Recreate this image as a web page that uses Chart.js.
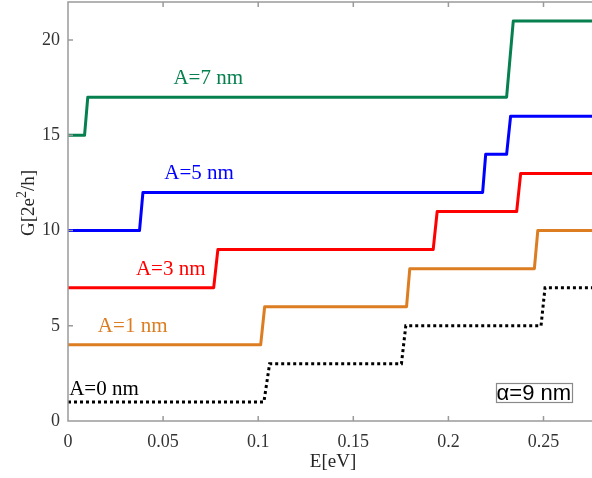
<!DOCTYPE html>
<html>
<head>
<meta charset="utf-8">
<script src="https://cdn.jsdelivr.net/npm/chart.js@4/dist/chart.umd.min.js"></script>
<style>
  html, body { margin: 0; padding: 0; background: #fff; }
  #wrap { width: 592px; height: 478px; position: relative; }
</style>
</head>
<body>
<div id="wrap"><canvas id="myChart"></canvas></div>
<script>
// conductance steps G(E) for several A values, a = 9 nm
var eA7 = [0, 0.0087, 0.0104, 0.2306, 0.2341, 0.2755];
var gA7 = [15, 15, 17, 17, 21, 21];

var eA5 = [0, 0.0376, 0.0394, 0.2180, 0.2196, 0.2306, 0.2327, 0.2755];
var gA5 = [10, 10, 12, 12, 14, 14, 16, 16];

var eA3 = [0, 0.0766, 0.0788, 0.1920, 0.1941, 0.2359, 0.2380, 0.2755];
var gA3 = [7, 7, 9, 9, 11, 11, 13, 13];

var eA1 = [0, 0.1013, 0.1034, 0.1780, 0.1797, 0.2452, 0.2470, 0.2755];
var gA1 = [4, 4, 6, 6, 8, 8, 10, 10];

var eA0 = [0, 0.1030, 0.1060, 0.1753, 0.1776, 0.2487, 0.2508, 0.2755];
var gA0 = [1, 1, 3, 3, 5, 5, 7, 7];

var seriesNames = ['A=7 nm', 'A=5 nm', 'A=3 nm', 'A=1 nm', 'A=0 nm'];
var seriesColors = ['#07804f', '#0000ff', '#ff0000', '#dc7d22', '#000000'];
// where each curve's name sits, in (E, G)
var labelE = [0.0737, 0.0689, 0.0540, 0.0340, 0.0189];
var labelG = [18.0, 12.97, 7.93, 4.95, 1.68];

var xTicks = [0, 0.05, 0.1, 0.15, 0.2, 0.25];
var yTicks = [0, 5, 10, 15, 20];

function toPoints(xs, ys) {
    return xs.map(function(x, i) { return {x: x, y: ys[i]}; });
}

var serif = '"Liberation Serif", "Times New Roman", serif';

var decorations = {
    id: 'decorations',
    afterDatasetsDraw: function(chart) {
        var ctx = chart.ctx;
        var area = chart.chartArea;
        var xs = chart.scales.x;
        var ys = chart.scales.y;
        ctx.save();

        // frame (left, bottom, top) with inward ticks
        ctx.strokeStyle = '#9a9a9a';
        ctx.lineWidth = 1.5;
        ctx.beginPath();
        ctx.moveTo(area.right, area.top);
        ctx.lineTo(area.left, area.top);
        ctx.lineTo(area.left, area.bottom);
        ctx.lineTo(area.right, area.bottom);
        xTicks.forEach(function(t) {
            var px = xs.getPixelForValue(t);
            ctx.moveTo(px, area.bottom);
            ctx.lineTo(px, area.bottom - 5);
            ctx.moveTo(px, area.top);
            ctx.lineTo(px, area.top + 5);
        });
        yTicks.forEach(function(t) {
            var py = ys.getPixelForValue(t);
            ctx.moveTo(area.left, py);
            ctx.lineTo(area.left + 5, py);
        });
        ctx.stroke();

        // curve names
        ctx.font = '21px ' + serif;
        ctx.textAlign = 'center';
        ctx.textBaseline = 'middle';
        seriesNames.forEach(function(name, i) {
            ctx.fillStyle = seriesColors[i];
            ctx.fillText(name, xs.getPixelForValue(labelE[i]), ys.getPixelForValue(labelG[i]));
        });

        // boxed parameter note
        var bx = xs.getPixelForValue(0.2449);
        var by = ys.getPixelForValue(1.49);
        ctx.font = '22px "Liberation Sans", Arial, sans-serif';
        var note = '\u03b1=9 nm';
        var w = ctx.measureText(note).width;
        ctx.fillStyle = '#000';
        ctx.fillText(note, bx, by + 1);
        ctx.strokeStyle = '#8a8a8a';
        ctx.lineWidth = 1.2;
        ctx.strokeRect(Math.round(bx - w / 2 - 1) + 0.5, Math.round(by - 10) + 0.5, Math.round(w + 2), 19);

        // axis titles
        ctx.fillStyle = '#262626';
        ctx.font = '19px ' + serif;
        ctx.textBaseline = 'alphabetic';
        ctx.fillText('E[eV]', 333, 467);

        ctx.translate(34, 203);
        ctx.rotate(-Math.PI / 2);
        ctx.textAlign = 'left';
        var a = 'G[2e', b = '2', c = '/h]';
        ctx.font = '19px ' + serif;
        var wa = ctx.measureText(a).width, wc = ctx.measureText(c).width;
        ctx.font = '14px ' + serif;
        var wb = ctx.measureText(b).width;
        var x0 = -(wa + wb + wc) / 2;
        ctx.font = '19px ' + serif;
        ctx.fillText(a, x0, 0);
        ctx.font = '14px ' + serif;
        ctx.fillText(b, x0 + wa, -8);
        ctx.font = '19px ' + serif;
        ctx.fillText(c, x0 + wa + wb, 0);
        ctx.restore();
    }
};

function makeDataset(xs, ys, i) {
    return {
        label: seriesNames[i],
        data: toPoints(xs, ys),
        borderColor: seriesColors[i],
        borderWidth: 3,
        borderJoinStyle: 'round',
        pointRadius: 0,
        tension: 0,
        fill: false
    };
}

var dotted = makeDataset(eA0, gA0, 4);
dotted.borderDash = [3, 3];
dotted.borderJoinStyle = 'miter';

var ctx = document.getElementById('myChart').getContext('2d');
var chart = new Chart(ctx, {
    type: 'line',
    data: {
        datasets: [
            makeDataset(eA7, gA7, 0),
            makeDataset(eA5, gA5, 1),
            makeDataset(eA3, gA3, 2),
            makeDataset(eA1, gA1, 3),
            dotted
        ]
    },
    options: {
        responsive: true,
        maintainAspectRatio: false,
        animation: false,
        layout: { padding: { top: 2, right: 0, left: 0, bottom: 0 } },
        plugins: {
            legend: { display: false },
            tooltip: { enabled: false }
        },
        scales: {
            x: {
                type: 'linear',
                min: 0,
                max: 0.2755,
                grid: { display: false, drawTicks: false },
                border: { display: false },
                afterFit: function(scale) {
                    scale.height = 57;
                    scale.paddingLeft = 0;
                    scale.paddingRight = 0;
                },
                afterBuildTicks: function(scale) {
                    scale.ticks = xTicks.map(function(v) { return {value: v}; });
                },
                ticks: {
                    padding: 10,
                    maxRotation: 0,
                    autoSkip: false,
                    color: '#333',
                    font: { family: serif, size: 18 },
                    callback: function(v) { return String(+v.toFixed(2)); }
                }
            },
            y: {
                type: 'linear',
                min: 0,
                max: 22,
                grid: { display: false, drawTicks: false },
                border: { display: false },
                afterFit: function(scale) {
                    scale.width = 68;
                    scale.paddingTop = 0;
                    scale.paddingBottom = 0;
                },
                afterBuildTicks: function(scale) {
                    scale.ticks = yTicks.map(function(v) { return {value: v}; });
                },
                ticks: {
                    padding: 8,
                    autoSkip: false,
                    color: '#333',
                    font: { family: serif, size: 18 },
                    callback: function(v) { return String(v); }
                }
            }
        }
    },
    plugins: [decorations]
});
</script>
</body>
</html>
